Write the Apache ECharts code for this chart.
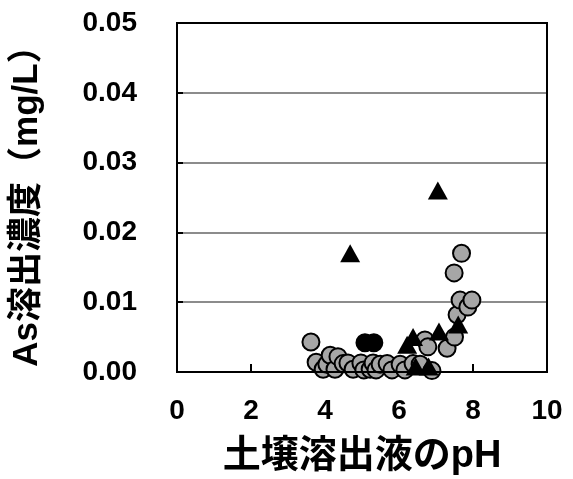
<!DOCTYPE html>
<html>
<head>
<meta charset="utf-8">
<script src="https://cdn.jsdelivr.net/npm/echarts@6/dist/echarts.min.js"></script>
<style>
  html, body { margin: 0; padding: 0; background: #fff; }
  #chart { width: 573px; height: 479px; }
</style>
</head>
<body>
<div id="chart"></div>
<script>
// Soil leachate pH vs. As leaching concentration (mg/L)
const xTicks = [0, 2, 4, 6, 8, 10];
const yTicks = [0.00, 0.01, 0.02, 0.03, 0.04, 0.05];

// grey circles
const grayPH = [3.62, 3.76, 3.95, 4.05, 4.14, 4.27, 4.35, 4.49, 4.62, 4.76, 4.97, 5.05, 5.22, 5.30, 5.38, 5.49, 5.68, 5.81, 6.03, 6.16, 6.38, 6.57, 6.89, 6.70, 6.78, 7.30, 7.50, 7.57, 7.65, 7.86, 7.97, 7.49, 7.69];
const grayAs = [0.0043, 0.0014, 0.0004, 0.0011, 0.0024, 0.0004, 0.0022, 0.0012, 0.0013, 0.0004, 0.0013, 0.0003, 0.0004, 0.0013, 0.0003, 0.0011, 0.0012, 0.0003, 0.0011, 0.0003, 0.0012, 0.0011, 0.0002, 0.0046, 0.0036, 0.0034, 0.0050, 0.0082, 0.0103, 0.0093, 0.0103, 0.0142, 0.0170];

// black circles
const blackPH = [5.08, 5.32];
const blackAs = [0.0042, 0.0042];

// black triangles
const triPH = [4.68, 7.05, 6.22, 6.38, 7.08, 7.60, 6.45, 6.80];
const triAs = [0.0170, 0.0260, 0.0039, 0.0050, 0.0058, 0.0068, 0.0008, 0.0008];

const zip = (xs, ys) => xs.map((x, i) => [x, ys[i]]);
const NUM_FONT = "'Liberation Sans', Arial, sans-serif";
const CJK_FONT = "'Liberation Sans', 'Noto Sans CJK JP', sans-serif";

const chart = echarts.init(document.getElementById('chart'), null, { renderer: 'canvas' });
chart.setOption({
  animation: false,
  backgroundColor: '#ffffff',
  grid: {
    left: 177, right: 26, top: 23, bottom: 107,
    containLabel: false, outerBoundsMode: 'none',
    show: true, borderColor: '#000', borderWidth: 2, backgroundColor: 'transparent'
  },
  xAxis: {
    type: 'value',
    min: xTicks[0], max: xTicks[xTicks.length - 1], interval: 2,
    name: '土壌溶出液のpH',
    nameLocation: 'middle',
    nameGap: 66,
    nameTextStyle: { fontFamily: CJK_FONT, fontSize: 38, fontWeight: 'bold', color: '#000' },
    axisLine: { onZero: false, lineStyle: { color: '#000', width: 2 } },
    axisTick: { inside: true, length: 8, lineStyle: { color: '#000', width: 2 } },
    axisLabel: { margin: 25, fontFamily: NUM_FONT, fontSize: 28, fontWeight: 'bold', color: '#000' },
    splitLine: { show: false }
  },
  yAxis: {
    type: 'value',
    min: yTicks[0], max: yTicks[yTicks.length - 1], interval: 0.01,
    name: 'As溶出濃度（mg/L）',
    nameLocation: 'middle',
    nameGap: 132,
    nameTextStyle: { fontFamily: CJK_FONT, fontSize: 35, fontWeight: 'bold', color: '#000' },
    axisLine: { show: true, onZero: false, lineStyle: { color: '#000', width: 2 } },
    axisTick: { show: true, inside: true, length: 6, lineStyle: { color: '#000', width: 2 } },
    axisLabel: { margin: 40, fontFamily: NUM_FONT, fontSize: 28, fontWeight: 'bold', color: '#000',
      formatter: v => v.toFixed(2) },
    splitLine: { show: true, showMinLine: false, showMaxLine: false, lineStyle: { color: '#8c8c8c', width: 2 } }
  },
  series: [{
    type: 'scatter',
    data: zip(grayPH, grayAs),
    symbol: 'circle',
    symbolSize: 17,
    itemStyle: { color: '#a6a6a6', borderColor: '#000', borderWidth: 2, opacity: 1 },
    z: 2
  }, {
    type: 'scatter',
    data: zip(blackPH, blackAs),
    symbol: 'circle',
    symbolSize: 17,
    itemStyle: { color: '#000', borderColor: '#000', borderWidth: 2, opacity: 1 },
    z: 3
  }, {
    type: 'scatter',
    data: zip(triPH, triAs),
    symbol: 'triangle',
    symbolSize: [20, 18],
    itemStyle: { color: '#000', opacity: 1 },
    z: 4
  }]
});

// plot frame: outline of the grid area, taken from the axes' own scale
const p0 = chart.convertToPixel({ gridIndex: 0 }, [xTicks[0], yTicks[yTicks.length - 1]]);
const p1 = chart.convertToPixel({ gridIndex: 0 }, [xTicks[xTicks.length - 1], yTicks[0]]);
chart.setOption({
  graphic: [{
    type: 'rect',
    silent: true,
    z: 5,
    shape: { x: p0[0], y: p0[1], width: p1[0] - p0[0], height: p1[1] - p0[1] },
    style: { fill: 'none', stroke: '#000', lineWidth: 2 }
  }]
});
</script>
</body>
</html>
